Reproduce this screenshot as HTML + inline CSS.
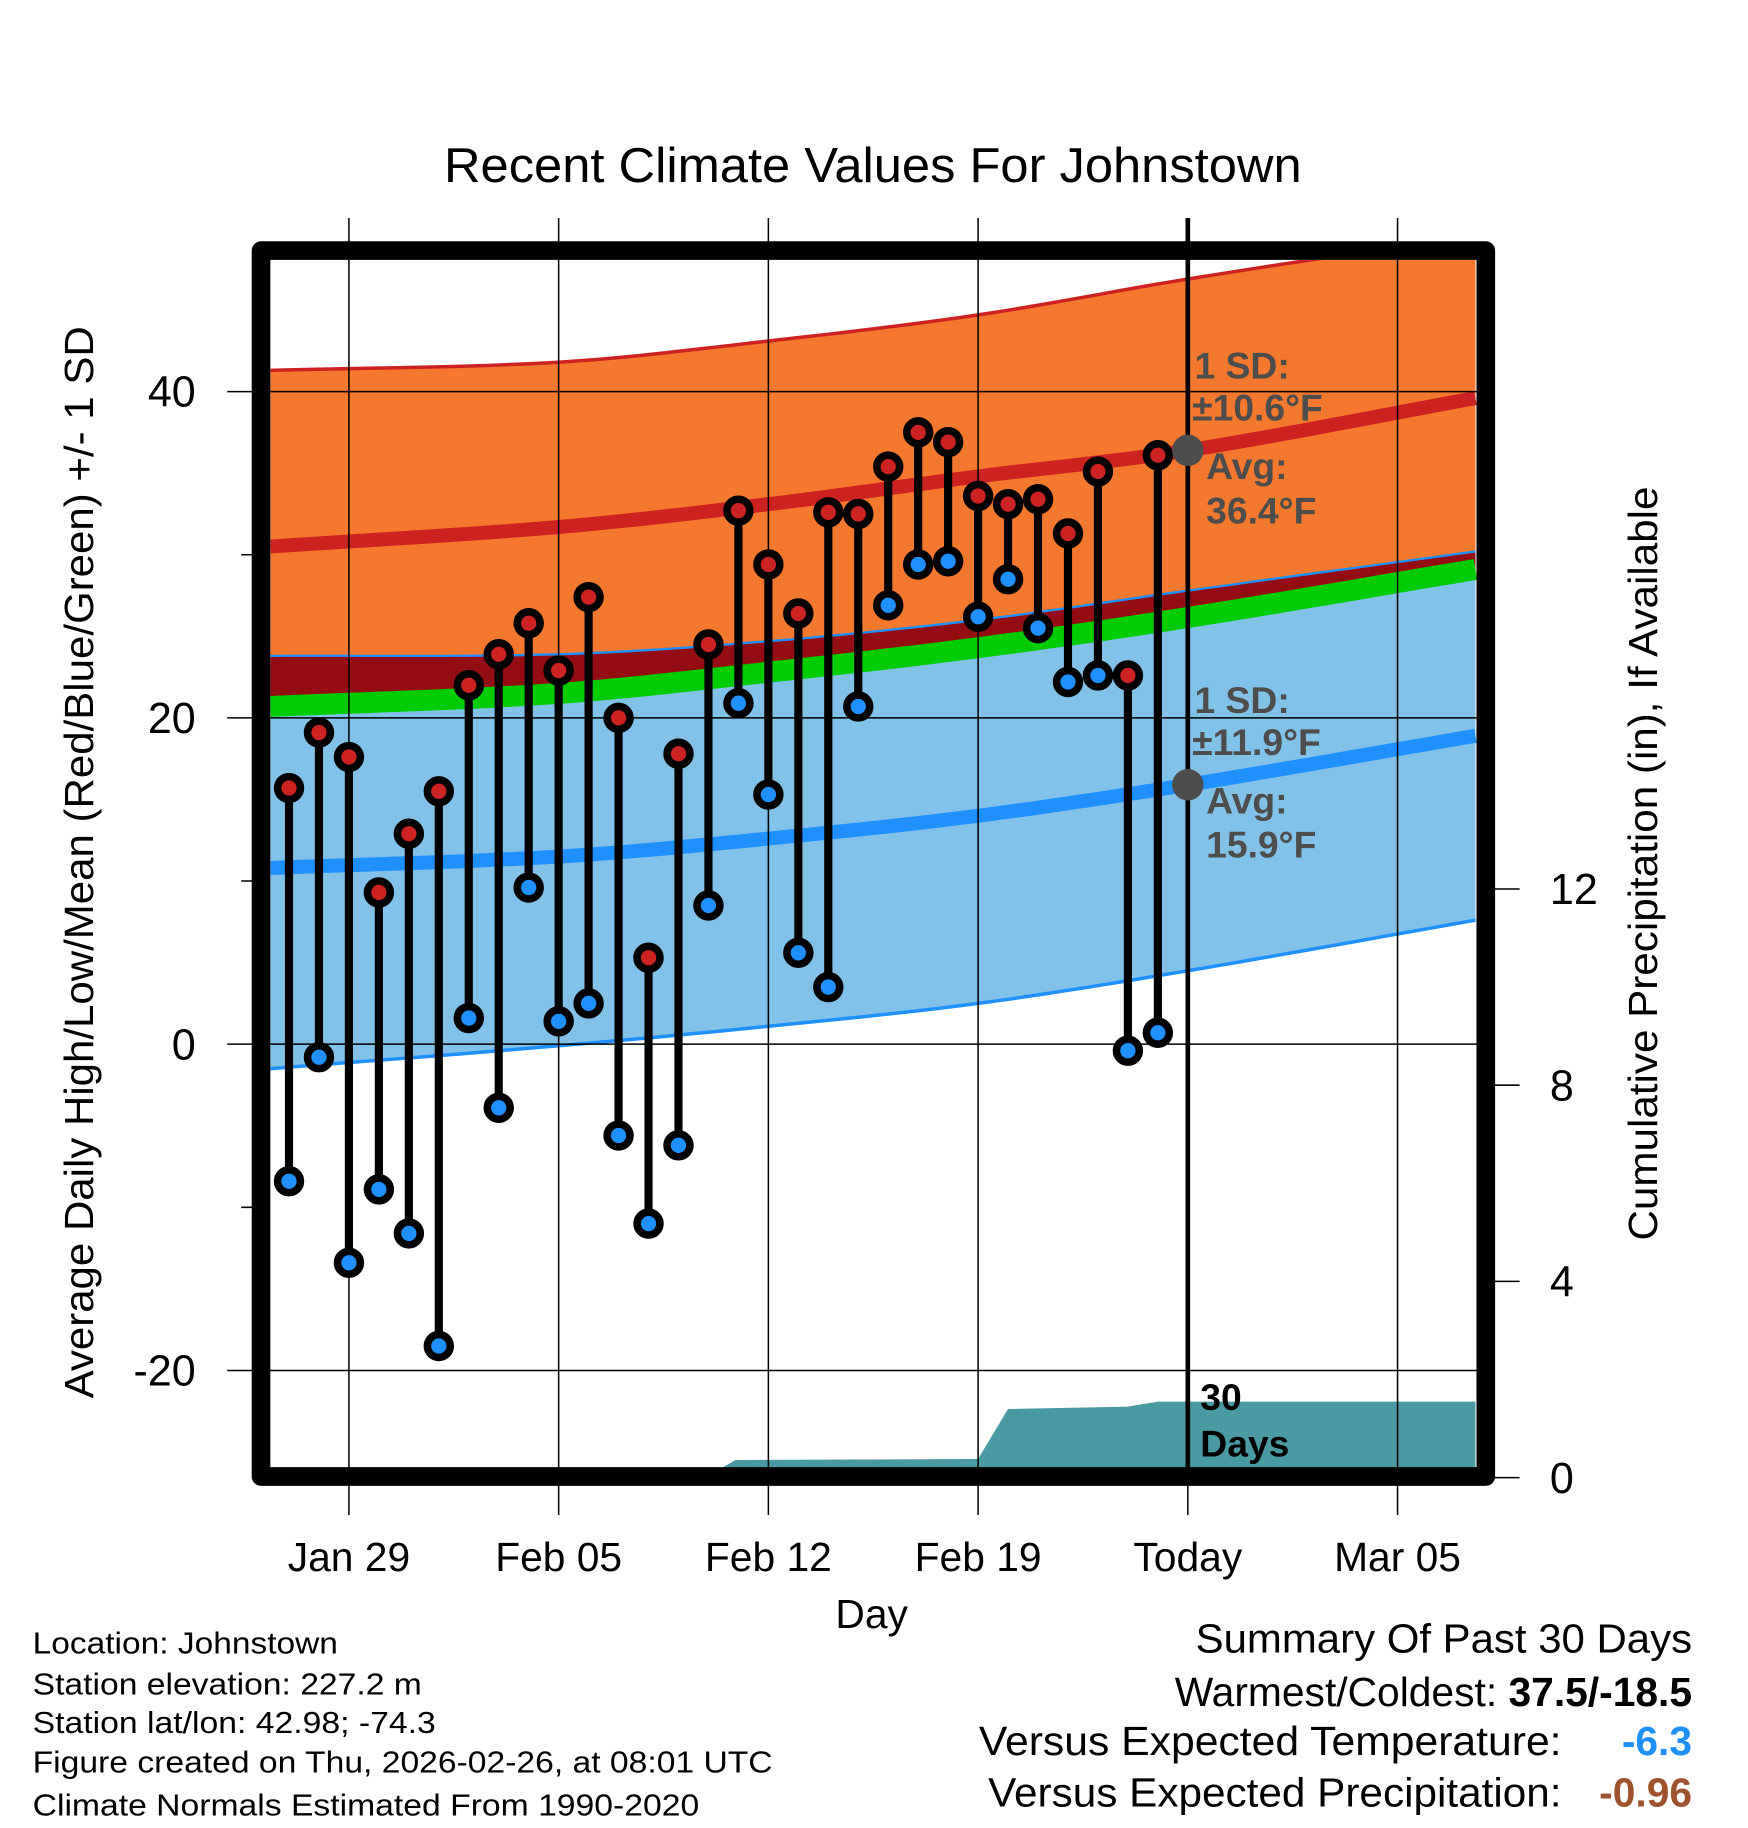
<!DOCTYPE html>
<html><head><meta charset="utf-8"><style>html,body{margin:0;padding:0;background:#fff}svg{display:block}</style></head>
<body>
<svg id="chart" xmlns="http://www.w3.org/2000/svg" width="1748" height="1828" viewBox="0 0 1500 1568.6" font-family="'Liberation Sans', sans-serif">
<rect width="1500" height="1568.6" fill="#fff"/>
<g id="plot"></g>
<text x="749" y="156" text-anchor="middle" font-size="42" textLength="736" lengthAdjust="spacingAndGlyphs">Recent Climate Values For Johnstown</text>
<text transform="translate(80,740) rotate(-90)" text-anchor="middle" font-size="35" textLength="920" lengthAdjust="spacingAndGlyphs">Average Daily High/Low/Mean (Red/Blue/Green) +/- 1 SD</text>
<text transform="translate(1422,741) rotate(-90)" text-anchor="middle" font-size="35" textLength="647" lengthAdjust="spacingAndGlyphs">Cumulative Precipitation (in), If Available</text>
<text x="748" y="1397" text-anchor="middle" font-size="35">Day</text>
<g font-size="26">
<text x="28" y="1419" textLength="262" lengthAdjust="spacingAndGlyphs">Location: Johnstown</text>
<text x="28" y="1454" textLength="334" lengthAdjust="spacingAndGlyphs">Station elevation: 227.2 m</text>
<text x="28" y="1487" textLength="346" lengthAdjust="spacingAndGlyphs">Station lat/lon: 42.98; -74.3</text>
<text x="28" y="1521" textLength="635" lengthAdjust="spacingAndGlyphs">Figure created on Thu, 2026-02-26, at 08:01 UTC</text>
<text x="28" y="1558" textLength="572" lengthAdjust="spacingAndGlyphs">Climate Normals Estimated From 1990-2020</text>
</g>
<g font-size="35" text-anchor="end">
<text x="1452" y="1418" textLength="426" lengthAdjust="spacingAndGlyphs">Summary Of Past 30 Days</text>
<text x="1452" y="1464">Warmest/Coldest: <tspan font-weight="bold">37.5/-18.5</tspan></text>
<text x="1340" y="1506" textLength="500" lengthAdjust="spacingAndGlyphs">Versus Expected Temperature:</text>
<text x="1452" y="1506" font-weight="bold" fill="#1e90ff">-6.3</text>
<text x="1340" y="1550" textLength="492" lengthAdjust="spacingAndGlyphs">Versus Expected Precipitation:</text>
<text x="1452" y="1550" font-weight="bold" fill="#a0522d">-0.96</text>
</g>
</svg>
<script>
const highs=[15.7,19.1,17.6,9.3,12.9,15.5,22.0,23.9,25.8,22.9,27.4,20.0,5.3,17.8,24.5,32.7,29.4,26.4,32.6,32.5,35.4,37.5,36.9,33.6,33.1,33.4,31.3,35.1,22.6,36.1];
const lows=[-8.4,-0.8,-13.4,-8.9,-11.6,-18.5,1.6,-3.9,9.6,1.4,2.5,-5.6,-11.0,-6.2,8.5,20.9,15.3,5.6,3.5,20.7,26.9,29.4,29.6,26.2,28.5,25.5,22.2,22.6,-0.4,0.7];
const normDays=[-0.62,9,16,23,30,39.6];
const hiUpper=[41.3,41.8,43.1,44.7,46.9,49.6];
const hiMean=[30.5,31.7,33.1,34.8,36.4,39.6];
const loHigh=[23.8,23.9,24.7,26.0,27.8,30.2];
const meanLine=[20.7,21.5,22.8,24.3,26.15,29.1];
const loMean=[10.8,11.5,12.6,14.0,15.9,18.9];
const loLow=[-1.5,-0.1,1.1,2.5,4.5,7.6];
const precipDays=[-0.62,13.9,14.9,23,24,28,29,39.6];
const precipVals=[0,0,0.36,0.38,1.4,1.45,1.55,1.55];
const xTickDays=[2,9,16,23,30,37];
const xTickLabels=['Jan 29','Feb 05','Feb 12','Feb 19','Today','Mar 05'];
const yTicks=[40,20,0,-20];
const yMinor=[30,10,-10];
const pTicks=[0,4,8,12];

const NS='http://www.w3.org/2000/svg';
const L=232,R=1267,T=223,B=1260;
const X=d=>248+d*25.71;
const Y=v=>896-v*14;
const P=v=>1268-v*42.1;
const g=document.getElementById('plot');
function mk(tag,at,parent){const e=document.createElementNS(NS,tag);for(const k in at)e.setAttribute(k,at[k]);(parent||g).appendChild(e);return e;}
function pts(days,vals,fy){return days.map((d,i)=>X(d).toFixed(1)+','+fy(vals[i]).toFixed(1));}
// smooth (monotone-ish cubic via Catmull-Rom sampling)
function smooth(days,vals,fy){const out=[];const n=days.length;
for(let i=0;i<n-1;i++){const p0=vals[Math.max(0,i-1)],p1=vals[i],p2=vals[i+1],p3=vals[Math.min(n-1,i+2)];
const d0=days[Math.max(0,i-1)],d1=days[i],d2=days[i+1],d3=days[Math.min(n-1,i+2)];
const m1=(p2-p0)/((d2-d0)||1)*(d2-d1),m2=(p3-p1)/((d3-d1)||1)*(d2-d1);
for(let k=0;k<12;k++){const t=k/12,t2=t*t,t3=t2*t;
const v=(2*t3-3*t2+1)*p1+(t3-2*t2+t)*m1+(-2*t3+3*t2)*p2+(t3-t2)*m2;
out.push(X(d1+(d2-d1)*t).toFixed(1)+','+fy(v).toFixed(1));}}
out.push(X(days[n-1]).toFixed(1)+','+fy(vals[n-1]).toFixed(1));return out;}
const defs=mk('defs',{});const cp=mk('clipPath',{id:'clip'},defs);mk('rect',{x:L,y:T,width:R-L,height:B-T},cp);
const inner=mk('g',{'clip-path':'url(#clip)'});
function band(a,b,fill,name){const p=smooth(normDays,a,Y).concat(smooth(normDays,b,Y).reverse());const e=mk('polygon',{points:p.join(' '),fill:fill},inner);

}
function line(vals,col,w,name){const e=mk('polyline',{points:smooth(normDays,vals,Y).join(' '),fill:'none',stroke:col,'stroke-width':w},inner);

}
const hiLow=hiMean.map((m,i)=>m-(hiUpper[i]-m));
band(hiUpper,hiLow,'#f4782d','high-sd-band');
band(loHigh,loLow,'#82c1e8','low-sd-band');
band(loHigh,meanLine,'#930d13','overlap-band');
line(hiUpper,'#cc2222',3,'high-upper-sd-line');
line(loHigh,'#1e90ff',2,'low-upper-sd-line');
line(loLow,'#1e90ff',3,'low-lower-sd-line');
line(meanLine,'#00cc00',18,'mean-line');
line(hiMean,'#cc2222',12,'high-mean-line');
line(loMean,'#1e90ff',12,'low-mean-line');
{const p=pts(precipDays,precipVals,P);p.push(X(precipDays[precipDays.length-1]).toFixed(1)+','+(B+20));p.push(X(precipDays[0]).toFixed(1)+','+(B+20));
const e=mk('polygon',{points:p.join(' '),fill:'#4a9aa4'},inner);

}
xTickDays.forEach((d,i)=>{const e=mk('line',{x1:X(d),x2:X(d),y1:187,y2:1300,stroke:'#000','stroke-width':1.3});


const t=mk('text',{x:X(d),y:1348,'text-anchor':'middle','font-size':35});t.textContent=xTickLabels[i];

});
yTicks.forEach(v=>{const e=mk('line',{x1:195,x2:R,y1:Y(v),y2:Y(v),stroke:'#000','stroke-width':1.3});


const t=mk('text',{x:168,y:Y(v)+13,'text-anchor':'end','font-size':37});t.textContent=v;

});
yMinor.forEach(v=>{const e=mk('line',{x1:207,x2:222,y1:Y(v),y2:Y(v),stroke:'#000','stroke-width':1.3});

});
pTicks.forEach(v=>{const e=mk('line',{x1:1280,x2:1304,y1:P(v),y2:P(v),stroke:'#000','stroke-width':1.3});


const t=mk('text',{x:1330,y:P(v)+13,'font-size':37});t.textContent=v;

});
{const e=mk('line',{x1:X(30),x2:X(30),y1:187,y2:B,stroke:'#000','stroke-width':4});

}
highs.forEach((h,i)=>{const x=X(i);
const s=mk('line',{x1:x,x2:x,y1:Y(h),y2:Y(lows[i]),stroke:'#000','stroke-width':7});

});
highs.forEach((h,i)=>{const x=X(i);
const a=mk('circle',{cx:x,cy:Y(h),r:9.8,fill:'#cc2222',stroke:'#000','stroke-width':6.5});


const b=mk('circle',{cx:x,cy:Y(lows[i]),r:9.8,fill:'#1e90ff',stroke:'#000','stroke-width':6.5});

});
[[hiMean[4],'10.6',313],[loMean[4],'11.9',600]].forEach(([v,sd,ty])=>{
const c=mk('circle',{cx:X(30),cy:Y(v),r:13.5,fill:'#4d4d4d'});


const t=mk('text',{x:1025,y:ty+12,'font-size':32,'font-weight':'bold',fill:'#4d4d4d'});


const lines=['1 SD:','±'+sd+'°F','Avg:',v.toFixed(1)+'°F'];const dx=[0,-2,10,10];const dy=[0,36,86,124];
lines.forEach((s,k)=>{const ts=mk('tspan',{x:1025+dx[k],y:ty+12+dy[k]},t);ts.textContent=s;});});
{const t=mk('text',{x:1030,y:1210,'font-size':32,'font-weight':'bold'});


const a=mk('tspan',{x:1030,y:1210},t);a.textContent='30';const b=mk('tspan',{x:1030,y:1250},t);b.textContent='Days';}
{const e=mk('rect',{x:224,y:215,width:1051,height:1052,fill:'none',stroke:'#000','stroke-width':16,'stroke-linejoin':'round'});

}
</script>
</body></html>
